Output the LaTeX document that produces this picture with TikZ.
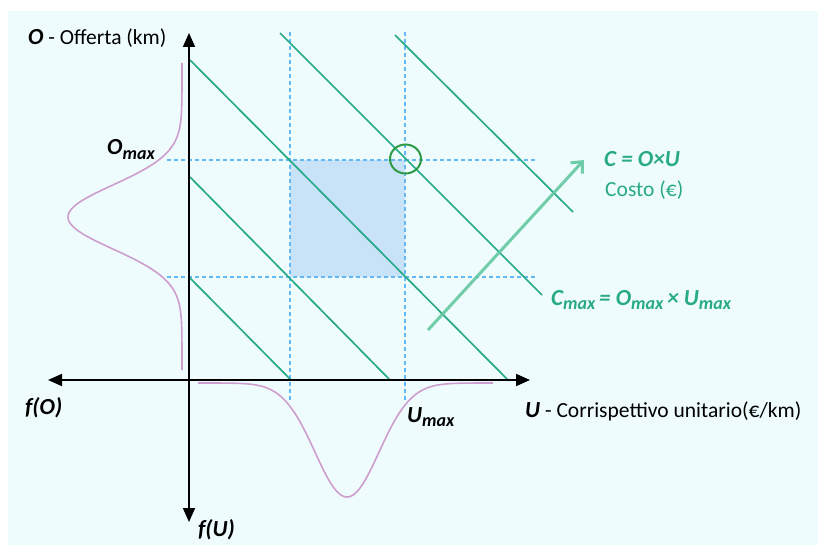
\documentclass[tikz,border=0pt]{standalone}
\usepackage{fontspec}
\setmainfont{Carlito}
\usetikzlibrary{arrows.meta,shapes.geometric}
\definecolor{bgc}{RGB}{239,252,254}
\definecolor{dashblue}{RGB}{100,185,245}
\definecolor{boxblue}{RGB}{200,226,248}
\definecolor{lgreen}{RGB}{40,170,135}
\definecolor{pinkc}{RGB}{205,158,205}
\definecolor{circgreen}{RGB}{45,155,70}
\definecolor{arrgreen}{RGB}{100,200,160}
\newcommand{\mysub}[1]{\raisebox{-4.5pt}{\fontsize{18}{18}\selectfont #1}}
\tikzset{
  guide/.style={dashblue, line width=1.6pt, dash pattern=on 4pt off 3pt},
  isocost/.style={lgreen, line width=1.7pt},
  density/.style={pinkc, line width=1.6pt},
  axis/.style={black, line width=1.8pt, {Triangle[length=14pt,width=12pt]}-{Triangle[length=14pt,width=12pt]}},
  lbl/.style={inner sep=0pt, anchor=base west, font=\fontsize{21.5}{24}\selectfont},
  blbl/.style={inner sep=0pt, anchor=base west, font=\fontsize{23}{26}\selectfont\bfseries\itshape},
  glbl/.style={lbl, text=lgreen},
  gblbl/.style={blbl, text=lgreen}
}
\begin{document}
\begin{tikzpicture}[x=1pt,y=-1pt]
\useasboundingbox (0,0) rectangle (818,545);
\fill[white] (0,0) rectangle (818,545);
\fill[bgc] (8,11) rectangle (818,545);
% shaded box
\fill[boxblue] (290,160) rectangle (405,277);
% guides
\coordinate (g1t) at (290,32); \coordinate (g1b) at (290,402);
\coordinate (g2t) at (405,32); \coordinate (g2b) at (405,400);
\coordinate (h1l) at (167,160); \coordinate (h1r) at (535,160);
\coordinate (h2l) at (167,277); \coordinate (h2r) at (535,277);
\draw[guide] (g1t) -- (g1b);
\draw[guide] (g2t) -- (g2b);
\draw[guide] (h1l) -- (h1r);
\draw[guide] (h2l) -- (h2r);
% densities
\draw[density] plot[domain=63:370, samples=120, smooth] ({182-114*exp(-0.5*((\x-217)/32)^2)}, \x);
\draw[density] plot[domain=198:493, samples=120, smooth] (\x, {383+114*exp(-0.5*((\x-347)/32)^2)});
% iso-cost lines
\coordinate (a1) at (190,60);  \coordinate (a2) at (508,380);
\coordinate (b1) at (190,177); \coordinate (b2) at (390,380);
\coordinate (c1) at (190,278); \coordinate (c2) at (291,380);
\coordinate (d1) at (280,33);  \coordinate (d2) at (542,295);
\coordinate (e1) at (395,35);  \coordinate (e2) at (573,212);
\draw[isocost] (a1) -- (a2);
\draw[isocost] (b1) -- (b2);
\draw[isocost] (c1) -- (c2);
\draw[isocost] (d1) -- (d2);
\draw[isocost] (e1) -- (e2);
% axes
\coordinate (vtop) at (189,33); \coordinate (vbot) at (189,522);
\coordinate (hleft) at (48,380); \coordinate (hright) at (530,380);
\draw[axis] (vbot) -- (vtop);
\draw[axis] (hleft) -- (hright);
% growth arrow
\coordinate (ga1) at (428,330); \coordinate (ga2) at (584,160);
\draw[arrgreen, opacity=0.9, line width=3pt, -{Straight Barb[length=9pt,width=16pt,line width=3pt]}] (ga1) -- (ga2);
% highlight circle
\node[draw=circgreen, line width=2pt, ellipse, minimum width=31pt, minimum height=29pt, inner sep=0pt] (hc) at (405.5,159) {};
% labels
\node[lbl] (lo) at (28,45) {\textbf{\textit{\fontsize{23}{26}\selectfont O}} - Offerta (km)};
\node[blbl] (lomax) at (107,155) {O\mysub{max}};
\node[blbl] (lfo) at (25,414) {f(O)};
\node[blbl] (lfu) at (198,536) {f(U)};
\node[blbl] (lumax) at (407,422) {U\mysub{max}};
\node[lbl] (lu) at (525,417) {\textbf{\textit{\fontsize{23}{26}\selectfont U}} - Corrispettivo unitario(€/km)};
\node[gblbl] (lc) at (604,167) {C = O×U};
\node[glbl] (lcosto) at (605,197) {Costo (€)};
\node[gblbl] (lcmax) at (551,305) {C\mysub{max}\,= O\mysub{max}\,× U\mysub{max}};
\end{tikzpicture}
\end{document}
